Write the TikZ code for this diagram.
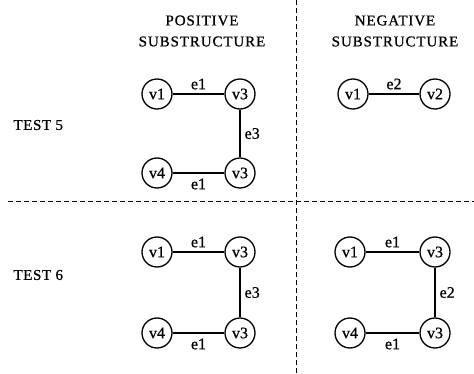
\documentclass[tikz,border=0pt]{standalone}
\usepackage{fontspec}
\setmainfont{Liberation Serif}[FakeBold=0.8]
\begin{document}
\begin{tikzpicture}[x=1pt,y=-1pt,
  vtx/.style={circle,draw,line width=1.3pt,minimum size=30pt,inner sep=0pt,font=\fontsize{16}{16}\selectfont},
  edge/.style={line width=1.3pt},
  lbl/.style={font=\fontsize{16}{16}\selectfont},
  hdr/.style={font=\fontsize{15}{21}\selectfont\addfontfeature{LetterSpace=6},align=center},
  side/.style={anchor=west,font=\fontsize{15}{15}\selectfont\addfontfeature{LetterSpace=4}},
  sep/.style={line width=0.9pt,dash pattern=on 5pt off 3pt}]
\useasboundingbox (0,0) rectangle (474,374);
% separators
\coordinate (vt) at (296,0); \coordinate (vb) at (296,374);
\coordinate (hl) at (8,201); \coordinate (hr) at (474,201);
\draw[sep] (vt) -- (vb);
\draw[sep] (hl) -- (hr);
% headers
\node[hdr] (hp) at (202,31) {POSITIVE\\SUBSTRUCTURE};
\node[hdr] (hn) at (395,31) {NEGATIVE\\SUBSTRUCTURE};
\node[side] (t5) at (10,125) {TEST 5};
\node[side] (t6) at (10,275) {TEST 6};
% test 5 positive
\node[vtx] (a1) at (157,94) {v1};
\node[vtx] (a3) at (240,94) {v3};
\node[vtx] (a3b) at (240,173) {v3};
\node[vtx] (a4) at (157,173) {v4};
\draw[edge] (a1) -- node[lbl,above,inner sep=4pt] {e1} (a3);
\draw[edge] (a3) -- node[lbl,right,inner sep=4pt] {e3} (a3b);
\draw[edge] (a4) -- node[lbl,below,inner sep=5pt] {e1} (a3b);
% test 5 negative
\node[vtx] (b1) at (353,94) {v1};
\node[vtx] (b2) at (435,94) {v2};
\draw[edge] (b1) -- node[lbl,above,inner sep=4pt] {e2} (b2);
% test 6 positive
\node[vtx] (c1) at (157,252) {v1};
\node[vtx] (c3) at (240,252) {v3};
\node[vtx] (c3b) at (240,333) {v3};
\node[vtx] (c4) at (157,333) {v4};
\draw[edge] (c1) -- node[lbl,above,inner sep=4pt] {e1} (c3);
\draw[edge] (c3) -- node[lbl,right,inner sep=4pt] {e3} (c3b);
\draw[edge] (c4) -- node[lbl,below,inner sep=5pt] {e1} (c3b);
% test 6 negative
\node[vtx] (d1) at (350,252) {v1};
\node[vtx] (d3) at (435,252) {v3};
\node[vtx] (d3b) at (435,333) {v3};
\node[vtx] (d4) at (350,333) {v4};
\draw[edge] (d1) -- node[lbl,above,inner sep=4pt] {e1} (d3);
\draw[edge] (d3) -- node[lbl,right,inner sep=4pt] {e2} (d3b);
\draw[edge] (d4) -- node[lbl,below,inner sep=5pt] {e1} (d3b);
\end{tikzpicture}
\end{document}
